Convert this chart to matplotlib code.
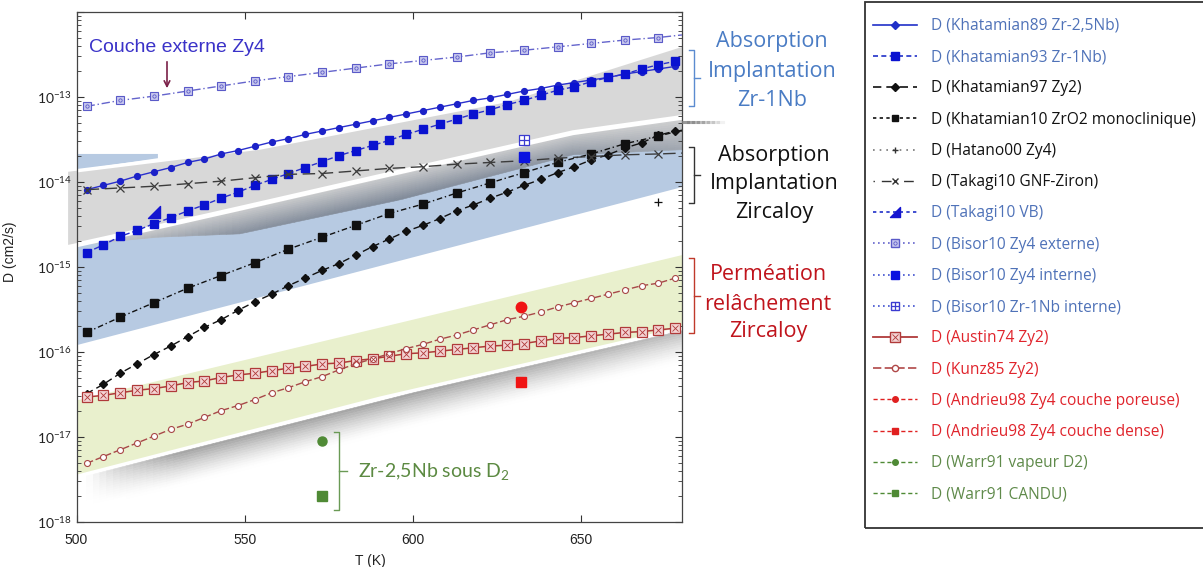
import numpy as np
import matplotlib.pyplot as plt
from matplotlib.lines import Line2D
from matplotlib.path import Path
from matplotlib.collections import PolyCollection
from matplotlib.patches import Polygon, Rectangle
from matplotlib.colors import to_rgb

plt.rcParams["font.family"] = ["Liberation Sans", "DejaVu Sans"]
plt.rcParams["mathtext.fontset"] = "custom"
plt.rcParams["mathtext.rm"] = "Liberation Sans"
plt.rcParams["mathtext.it"] = "Liberation Sans:italic"
plt.rcParams["mathtext.bf"] = "Liberation Sans:bold"

# ---------------- data: temperature (K) and log10 D (cm2/s)
T_5 = [503, 508, 513, 518, 523, 528, 533, 538, 543, 548, 553, 558, 563, 568, 573, 578, 583, 588,
       593, 598, 603, 608, 613, 618, 623, 628, 633, 638, 643, 648, 653, 658, 663, 668, 673, 678]
T_10 = [503, 513, 523, 533, 543, 553, 563, 573, 583, 593, 603, 613, 623, 633, 643, 653, 663, 673, 680]

khat89 = [-14.09, -14.04, -13.99, -13.93, -13.88, -13.83, -13.77, -13.73, -13.67, -13.63, -13.58, -13.53,
          -13.49, -13.44, -13.40, -13.36, -13.32, -13.28, -13.24, -13.20, -13.16, -13.12, -13.08, -13.04,
          -13.01, -12.97, -12.93, -12.90, -12.86, -12.83, -12.80, -12.77, -12.73, -12.70, -12.67, -12.64]
khat93 = [-14.83, -14.74, -14.64, -14.57, -14.49, -14.42, -14.34, -14.27, -14.19, -14.12, -14.04, -13.97,
          -13.90, -13.83, -13.76, -13.69, -13.63, -13.57, -13.51, -13.44, -13.38, -13.32, -13.26, -13.20,
          -13.15, -13.09, -13.04, -12.98, -12.92, -12.88, -12.82, -12.77, -12.73, -12.67, -12.62, -12.58]
khat97 = [-16.49, -16.38, -16.25, -16.14, -16.03, -15.93, -15.82, -15.71, -15.62, -15.51, -15.41, -15.32,
          -15.22, -15.13, -15.04, -14.96, -14.86, -14.76, -14.67, -14.58, -14.51, -14.43, -14.34, -14.27,
          -14.19, -14.12, -14.04, -13.97, -13.89, -13.82, -13.74, -13.68, -13.60, -13.54, -13.45, -13.40]
khat10 = [-15.77, -15.59, -15.42, -15.25, -15.10, -14.95, -14.79, -14.65, -14.51, -14.37, -14.26, -14.13,
          -14.01, -13.89, -13.77, -13.67, -13.55, -13.46, -13.39]
takagi_gnf = [-14.09, -14.07, -14.05, -14.02, -13.99, -13.95, -13.91, -13.90, -13.87, -13.84, -13.82, -13.79,
              -13.77, -13.75, -13.72, -13.70, -13.68, -13.67, -13.66]
bisor_ext = [-13.11, -13.04, -12.99, -12.93, -12.87, -12.81, -12.76, -12.71, -12.66, -12.61, -12.57, -12.53,
             -12.48, -12.45, -12.41, -12.37, -12.33, -12.30, -12.27]
austin74 = [-16.53, -16.51, -16.48, -16.45, -16.43, -16.40, -16.36, -16.34, -16.30, -16.27, -16.25, -16.22,
            -16.19, -16.17, -16.14, -16.13, -16.10, -16.08, -16.05, -16.02, -16.01, -15.99, -15.97, -15.95,
            -15.93, -15.92, -15.90, -15.87, -15.84, -15.83, -15.81, -15.79, -15.77, -15.76, -15.74, -15.72]
kunz85 = [-17.31, -17.23, -17.15, -17.07, -16.99, -16.91, -16.85, -16.77, -16.69, -16.63, -16.56, -16.48,
          -16.42, -16.35, -16.29, -16.21, -16.14, -16.08, -16.02, -15.96, -15.91, -15.85, -15.80, -15.74,
          -15.68, -15.62, -15.58, -15.53, -15.47, -15.42, -15.37, -15.32, -15.27, -15.22, -15.19, -15.13]

# single measurements (T, log10 D)
hatano00 = (673, -14.23)
takagi_vb = (523, -14.35)
bisor_int = (633, -13.70)
bisor_nb = (633, -13.51)
andrieu_por = (632, -15.47)
andrieu_den = (632, -16.35)
warr_vap = (573, -17.05)
warr_candu = (573, -17.69)

legend_labels = ["D (Khatamian89 Zr-2,5Nb)", "D (Khatamian93 Zr-1Nb)", "D (Khatamian97 Zy2)",
                 "D (Khatamian10 ZrO2 monoclinique)", "D (Hatano00 Zy4)", "D (Takagi10 GNF-Ziron)",
                 "D (Takagi10 VB)", "D (Bisor10 Zy4 externe)", "D (Bisor10 Zy4 interne)",
                 "D (Bisor10 Zr-1Nb interne)", "D (Austin74 Zy2)", "D (Kunz85 Zy2)",
                 "D (Andrieu98 Zy4 couche poreuse)", "D (Andrieu98 Zy4 couche dense)",
                 "D (Warr91 vapeur D2)", "D (Warr91 CANDU)"]
y_decades = [-18, -17, -16, -15, -14, -13, -12]
y_tick_labels = ["$10^{-18}$", "$10^{-17}$", "$10^{-16}$", "$10^{-15}$", "$10^{-14}$", "$10^{-13}$", ""]

# shaded domains (T, log10 D)
grey_T = [497.5, 554.5, 628.0, 680.0, 680.0, 647.6, 596.2, 548.6, 497.5]
grey_L = [-13.88, -13.60, -13.04, -12.39, -13.24, -13.42, -13.88, -14.31, -14.74]
edge_T = [500.0, 524.0, 548.6, 596.2, 647.6, 680.0]          # lower edge of the grey domain
edge_L = [-14.74, -14.53, -14.31, -13.88, -13.42, -13.24]
blue_T = [500.0, 548.6, 596.2, 647.6, 680.0, 680.0, 500.0]
blue_L = [-14.74, -14.31, -13.88, -13.42, -13.24, -14.06, -15.92]
patch_T = [500.0, 524.2, 524.2, 500.0]
patch_L = [-13.67, -13.67, -13.72, -13.86]
green_T = [500.0, 680.0, 680.0, 590.2, 500.0]
green_L = [-16.57, -14.86, -15.72, -16.54, -17.46]
gbot_T = [500.0, 590.2, 680.0]
gbot_L = [-17.46, -16.54, -15.72]

W, H = 1203, 567


def fx(x):
    return x / W


def fy(y):
    return 1 - y / H


def dec(a):
    return 10.0 ** np.asarray(a, dtype=float)


fig = plt.figure(figsize=(W / 100, H / 100), dpi=100)
ax = fig.add_axes([76.5 / W, 45 / H, 605.5 / W, 510 / H])
ax.set_yscale("log")
ax.set_xlim(500, 680)
ax.set_ylim(1e-18, 1e-12)

# ---------------- background domains
ax.add_patch(Polygon(np.column_stack([blue_T, dec(blue_L)]), closed=True, fc="#b7cae2", ec="none", zorder=0.2))
ax.add_patch(Polygon(np.column_stack([patch_T, dec(patch_L)]), closed=True, fc="#b7cae2", ec="none", zorder=0.2))


def shade(T_nodes, L_nodes, depth_nodes, strength_nodes, c_top, c_bot, z, n=14, fade=False):
    Tf = np.linspace(T_nodes[0], T_nodes[-1], 90)
    Lf = np.interp(Tf, T_nodes, L_nodes)
    Df = np.interp(Tf, T_nodes, depth_nodes)
    Sf = np.interp(Tf, T_nodes, strength_nodes)
    verts, cols = [], []
    ct, cb = np.array(to_rgb(c_top)), np.array(to_rgb(c_bot))
    for i in range(len(Tf) - 1):
        for k in range(n):
            f0, f1 = k / n, (k + 1) / n
            v = [(Tf[i], 10 ** (Lf[i] - Df[i] * f0)), (Tf[i + 1], 10 ** (Lf[i + 1] - Df[i + 1] * f0)),
                 (Tf[i + 1], 10 ** (Lf[i + 1] - Df[i + 1] * f1)), (Tf[i], 10 ** (Lf[i] - Df[i] * f1))]
            s = 0.5 * (Sf[i] + Sf[i + 1])
            fm = (k + 0.5) / n
            if fade:
                d = s * (1 - fm) ** 1.4 * 0.55
            else:
                d = fm * s
            cols.append((*(ct * (1 - d) + cb * d), 1.0))
            verts.append(v)
    ax.add_collection(PolyCollection(verts, facecolors=cols, edgecolors=cols, linewidths=0.4, zorder=z))


# shadow of the grey domain onto the blue one
shade(edge_T, edge_L, [0.0, 0.12, 0.30, 0.33, 0.26, 0.38], [0.0, 0.4, 0.9, 1.0, 0.8, 0.6],
      "#d2d2d2", "#7f8998", 0.3)
ax.add_patch(Polygon(np.column_stack([grey_T, dec(grey_L)]), closed=True, fc="#d8d8d8", ec="none",
                     zorder=0.4, clip_on=False))
ax.plot(grey_T[:4], dec(grey_L[:4]), color="white", lw=2.5, zorder=0.45, solid_capstyle="butt")
ax.plot(edge_T, dec(edge_L), color="white", lw=3.5, zorder=0.45)

# green domain with its drop shadow
ax.add_patch(Polygon(np.column_stack([green_T, dec(green_L)]), closed=True, fc="#e9f0cd", ec="none", zorder=0.2))
gs_T = [503.0, 512.0, 530.0, 600.0, 680.0]
shade(gs_T, list(np.interp(gs_T, gbot_T, gbot_L) - 0.03), [0.36, 0.38, 0.40, 0.40, 0.38],
      [0.0, 0.45, 1.0, 1.0, 0.75], "#ffffff", "#555555", 0.25, fade=True)
ax.plot(gbot_T, dec(gbot_L), color="white", lw=2.0, zorder=0.26)

# ---------------- series
T5 = np.array(T_5)
T10 = np.array(T_10)

blue = "#1c22c8"
ax.plot(T5, dec(khat89), color="#2a30cc", lw=1.0, marker="o", ms=4.2, mfc=blue, mec=blue, zorder=3)
ax.plot(T5, dec(khat93), color="#2a30cc", lw=1.0, ls=(0, (4, 2)), marker="s", ms=5.2, mfc="#0a12d0",
        mec="#0a12d0", zorder=3)
ax.plot(T5, dec(khat97), color="#111111", lw=1.0, ls=(0, (5, 3)), marker="D", ms=3.6, mfc="#111111",
        mec="#111111", zorder=3)
ax.plot(T10, dec(khat10), color="#111111", lw=1.0, ls=(0, (4, 2, 1, 2)), marker="s", ms=5.5, mfc="#111111",
        mec="#111111", markevery=slice(0, -1), zorder=3)
ax.plot(T10, dec(takagi_gnf), color="#3c3c3c", lw=1.0, ls=(0, (9, 4)), marker="x", ms=5.5, mec="#3c3c3c",
        mew=0.9, markevery=slice(0, -1), zorder=3)
ax.plot(T10, dec(bisor_ext), color="#6464cc", lw=1.0, ls=(0, (6, 2, 1, 2)), marker="s", ms=5.5, mfc="#c8c8ee",
        mec="#5a5ac8", mew=0.8, markevery=slice(0, -1), zorder=3)
ax.plot(T10[:-1], dec(bisor_ext[:-1]), ls="none", marker="o", ms=2.4, mfc="none", mec="#5a5ac8", mew=0.6, zorder=3.1)
ax.plot(T5, dec(austin74), color="#b03a3a", lw=1.1, marker="s", ms=7.5, mfc="#f3d4d4", mec="#b03a3a",
        mew=0.9, zorder=3)
ax.plot(T5, dec(austin74), ls="none", marker="x", ms=4.5, mec="#b03a3a", mew=0.6, zorder=3.1)
ax.plot(T5, dec(kunz85), color="#a84848", lw=1.0, ls=(0, (5, 2)), marker="o", ms=4.3, mfc="white",
        mec="#a84848", mew=0.8, zorder=3)

rtri = Path([(-1, -1), (1, -1), (1, 1), (-1, -1)], [Path.MOVETO, Path.LINETO, Path.LINETO, Path.CLOSEPOLY])
ax.plot([hatano00[0]], dec([hatano00[1]]), ls="none", marker="+", ms=6, mec="#111111", mew=0.9, zorder=3)
ax.plot([takagi_vb[0]], dec([takagi_vb[1]]), ls="none", marker=rtri, ms=8, mfc="#1515d0", mec="#1515d0", zorder=3)
ax.plot([bisor_int[0]], dec([bisor_int[1]]), ls="none", marker="s", ms=7, mfc="#0a12e0", mec="#0a12e0", zorder=3)
ax.plot([bisor_nb[0]], dec([bisor_nb[1]]), ls="none", marker="s", ms=6.5, mfc="white", mec="#3a3ad0",
        mew=0.9, zorder=3)
ax.plot([bisor_nb[0]], dec([bisor_nb[1]]), ls="none", marker="+", ms=6.5, mec="#3a3ad0", mew=0.9, zorder=3.1)
ax.plot([andrieu_por[0]], dec([andrieu_por[1]]), ls="none", marker="o", ms=7.5, mfc="#f01414", mec="#f01414", zorder=3)
ax.plot([andrieu_den[0]], dec([andrieu_den[1]]), ls="none", marker="s", ms=7.5, mfc="#f01414", mec="#f01414", zorder=3)
ax.plot([warr_vap[0]], dec([warr_vap[1]]), ls="none", marker="o", ms=6.5, mfc="#4f8a35", mec="#4f8a35", zorder=3)
ax.plot([warr_candu[0]], dec([warr_candu[1]]), ls="none", marker="s", ms=6.5, mfc="#4f8a35", mec="#4f8a35", zorder=3)

# ---------------- axes styling
ax.set_xticks([500, 550, 600, 650])
ax.set_yticks(dec(y_decades))
ax.set_yticklabels(y_tick_labels)
ax.set_ylim(1e-18, 1e-12)
ax.tick_params(which="both", direction="in", top=True, right=True, labelsize=10, colors="#333333",
               labelcolor="#222222")
ax.tick_params(which="major", length=5, width=0.8)
ax.tick_params(which="minor", length=3, width=0.6)
ax.tick_params(axis="x", pad=8)
for s in ax.spines.values():
    s.set_color("#444444")
    s.set_linewidth(0.9)
ax.set_xlabel("T (K)", fontsize=10, color="#222222")
ax.set_ylabel("D (cm2/s)", fontsize=10, color="#222222")
ax.xaxis.set_label_coords(0.485, -0.062)
ax.yaxis.set_label_coords(-0.098, 0.53)

# ---------------- annotations
ax.annotate("", xy=(fx(167), fy(91)), xytext=(fx(167), fy(59)), xycoords="figure fraction",
            textcoords="figure fraction", arrowprops=dict(arrowstyle="->", color="#7a2048", lw=1.2))
fig.text(fx(89), fy(48), "Couche externe Zy4", fontsize=14, color="#3a32c8", va="center", ha="left",
         family="Liberation Sans")
plt.rcParams["mathtext.rm"] = "Lato"
fig.text(fx(358), fy(471), "Zr-2,5Nb sous D$_2$", fontsize=14, color="#5c8a42", va="center", ha="left",
         family="Lato")

groups = [(["Absorption", "Implantation", "Zr-1Nb"], "#4a7cc4", 772, [42, 72, 101], (50, 106)),
          (["Absorption", "Implantation", "Zircaloy"], "#111111", 774, [155, 184, 213], (147, 203)),
          (["Perméation", "relâchement", "Zircaloy"], "#c0141c", 768, [275, 305, 332], (258, 333))]
bracket_cols = ["#5b8bd0", "#333333", "#c0392b"]
for (lines, col, cx, ys, (b0, b1)), bcol in zip(groups, bracket_cols):
    for txt, yy in zip(lines, ys):
        fig.text(fx(cx), fy(yy), txt, fontsize=15.5, color=col, ha="center", va="center", family="Open Sans")
    fig.add_artist(Line2D([fx(689), fx(693.5), fx(693.5), fx(689)], [fy(b0), fy(b0), fy(b1), fy(b1)],
                          color=bcol, lw=1.0))
    ym = (b0 + b1) / 2
    fig.add_artist(Line2D([fx(693.5), fx(700)], [fy(ym), fy(ym)], color=bcol, lw=1.0))

# green bracket
gcol = "#6a9a55"
fig.add_artist(Line2D([fx(334), fx(338.5), fx(338.5), fx(334)], [fy(432), fy(432), fy(510), fy(510)],
                      color=gcol, lw=1.0))
fig.add_artist(Line2D([fx(338.5), fx(347)], [fy(471), fy(471)], color=gcol, lw=1.0))

# grey edge leaking to the right of the frame
for k in range(8):
    fig.add_artist(Line2D([fx(683 + 5 * k), fx(688 + 5 * k)], [fy(122), fy(122)], color="#808080",
                          lw=2.2, alpha=0.8 * (1 - k / 8)))

# ---------------- legend
lb = "#2030c8"
handles = [
    Line2D([], [], color=lb, lw=1.2, marker="D", ms=4, mfc=lb, mec=lb),
    Line2D([], [], color=lb, lw=1.2, ls=(0, (3, 2)), marker="s", ms=5.5, mfc="#0a12d0", mec="#0a12d0"),
    Line2D([], [], color="#111111", lw=1.2, ls=(0, (5, 3)), marker="D", ms=4, mfc="#111111", mec="#111111"),
    Line2D([], [], color="#111111", lw=1.2, ls=(0, (2, 2)), marker="s", ms=5, mfc="#111111", mec="#111111"),
    Line2D([], [], color="#777777", lw=1.2, ls=(0, (1, 3)), marker="+", ms=5, mec="#333333"),
    Line2D([], [], color="#333333", lw=1.0, ls=(0, (1, 5, 7, 3)), marker="x", ms=5, mec="#333333"),
    Line2D([], [], color=lb, lw=1.2, ls=(0, (2, 2)), marker=rtri, ms=7, mfc="#1515d0", mec="#1515d0"),
    (Line2D([], [], color="#6464cc", lw=1.2, ls=(0, (1, 2)), marker="s", ms=5.5, mfc="#c8c8ee", mec="#5a5ac8"),
     Line2D([], [], ls="none", marker="o", ms=2.4, mfc="none", mec="#5a5ac8", mew=0.6)),
    Line2D([], [], color="#4050d0", lw=1.2, ls=(0, (1, 2)), marker="s", ms=6, mfc="#0a12e0", mec="#0a12e0"),
    (Line2D([], [], color="#4050d0", lw=1.2, ls=(0, (1, 2)), marker="s", ms=6, mfc="white", mec="#3a3ad0"),
     Line2D([], [], ls="none", marker="+", ms=6, mec="#3a3ad0", mew=0.9)),
    (Line2D([], [], color="#b03a3a", lw=1.3, marker="s", ms=7, mfc="#f3d4d4", mec="#b03a3a"),
     Line2D([], [], ls="none", marker="x", ms=4.5, mec="#b03a3a", mew=0.6)),
    Line2D([], [], color="#b04848", lw=1.2, ls=(0, (5, 2)), marker="o", ms=4.5, mfc="white", mec="#b04848"),
    Line2D([], [], color="#e02020", lw=1.0, ls=(0, (3, 2)), marker="o", ms=4, mfc="#e02020", mec="#e02020"),
    Line2D([], [], color="#e02020", lw=1.0, ls=(0, (3, 2)), marker="s", ms=4, mfc="#e02020", mec="#e02020"),
    Line2D([], [], color="#4f8a35", lw=1.0, ls=(0, (3, 2)), marker="o", ms=4, mfc="#4f8a35", mec="#4f8a35"),
    Line2D([], [], color="#4f8a35", lw=1.0, ls=(0, (3, 2)), marker="s", ms=4, mfc="#4f8a35", mec="#4f8a35"),
]
text_cols = ["#4f72b8"] * 2 + ["#111111"] * 4 + ["#4f72b8"] * 4 + ["#e0242c"] * 4 + ["#5f8a4a"] * 2

leg = fig.legend(handles, legend_labels, loc="upper left", bbox_to_anchor=(fx(873), fy(18)), frameon=False,
                 prop={"family": "Open Sans", "size": 11.2}, handlelength=2.8, handletextpad=0.9,
                 labelspacing=0.98, borderpad=0, borderaxespad=0)
for t, c in zip(leg.get_texts(), text_cols):
    t.set_color(c)
fig.add_artist(Rectangle((fx(865), fy(528)), (1215 - 865) / W, (528 - 2) / H, transform=fig.transFigure,
                         fill=False, ec="#333333", lw=1.3))

fig.savefig("out.png", dpi=100)
